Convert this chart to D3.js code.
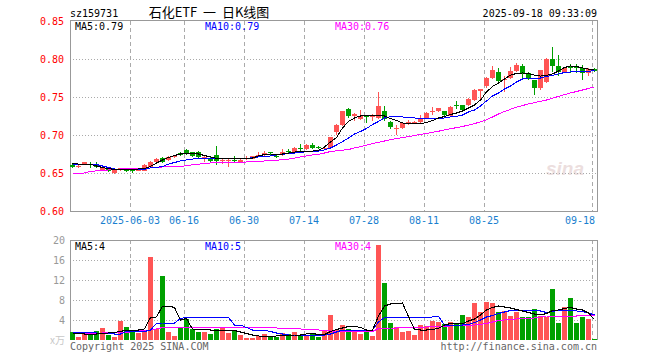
<!DOCTYPE html>
<html>
<head>
<meta charset="utf-8">
<script src="https://cdn.jsdelivr.net/npm/d3@7"></script>
<style>
  html, body { margin: 0; padding: 0; background: #fff; }
  svg { display: block; }
  text { font-family: "DejaVu Sans Mono", monospace; font-size: 10px; }
</style>
</head>
<body>
<div id="chart"></div>
<script>
// trading days shown (2025)
const dates = ["05-19","05-20","05-21","05-22","05-23","05-26","05-27","05-28","05-29","05-30",
  "06-03","06-04","06-05","06-06","06-09","06-10","06-11","06-12","06-13","06-16",
  "06-17","06-18","06-19","06-20","06-23","06-24","06-25","06-26","06-27","06-30",
  "07-01","07-02","07-03","07-04","07-07","07-08","07-09","07-10","07-11","07-14",
  "07-15","07-16","07-17","07-18","07-21","07-22","07-23","07-24","07-25","07-28",
  "07-29","07-30","07-31","08-01","08-04","08-05","08-06","08-07","08-08","08-11",
  "08-12","08-13","08-14","08-15","08-18","08-19","08-20","08-21","08-22","08-25",
  "08-26","08-27","08-28","08-29","09-01","09-02","09-03","09-04","09-05","09-08",
  "09-09","09-10","09-11","09-12","09-15","09-16","09-17","09-18"];

const open = [.660,.658,.662,.662,.660,.654,.656,.650,.654,.656,
  .654,.653,.653,.658,.664,.670,.667,.671,.676,.680,
  .677,.678,.670,.670,.674,.666,.666,.667,.665,.669,
  .669,.673,.674,.677,.673,.674,.679,.678,.683,.681,
  .687,.684,.681,.683,.704,.713,.734,.725,.721,.725,
  .724,.722,.732,.717,.708,.709,.716,.716,.717,.722,
  .730,.731,.731,.725,.739,.739,.739,.746,.758,.764,
  .775,.783,.773,.775,.784,.791,.782,.772,.762,.770,
  .800,.791,.782,.790,.789,.788,.782,.787];
const high = [.662,.660,.665,.664,.664,.659,.658,.655,.657,.657,
  .656,.657,.662,.666,.670,.671,.672,.674,.677,.681,
  .678,.679,.672,.671,.686,.668,.669,.672,.670,.672,
  .673,.677,.679,.678,.674,.681,.681,.684,.688,.688,
  .689,.686,.684,.698,.714,.732,.735,.729,.733,.726,
  .727,.757,.738,.718,.713,.717,.720,.718,.726,.730,
  .737,.736,.732,.738,.745,.740,.749,.760,.761,.776,
  .791,.788,.778,.790,.795,.793,.783,.773,.785,.801,
  .816,.805,.789,.793,.793,.792,.788,.788];
const low = [.657,.657,.661,.657,.657,.653,.651,.649,.653,.651,
  .650,.652,.652,.657,.663,.663,.666,.670,.673,.674,
  .671,.670,.664,.663,.661,.662,.658,.664,.663,.667,
  .668,.672,.673,.673,.670,.673,.676,.677,.679,.680,
  .682,.681,.680,.682,.700,.712,.722,.719,.720,.716,
  .718,.721,.718,.708,.700,.708,.713,.714,.716,.721,
  .726,.730,.722,.724,.734,.732,.738,.745,.748,.762,
  .774,.769,.757,.774,.783,.772,.773,.753,.759,.769,
  .783,.777,.781,.782,.782,.772,.777,.783];
const close = [.658,.659,.664,.661,.658,.658,.652,.654,.656,.652,
  .653,.656,.661,.665,.668,.665,.671,.672,.674,.675,
  .672,.671,.671,.666,.666,.667,.667,.666,.667,.670,
  .673,.674,.676,.676,.671,.678,.678,.683,.682,.687,
  .683,.683,.683,.697,.713,.731,.725,.727,.725,.724,
  .725,.738,.721,.710,.709,.716,.717,.717,.722,.729,
  .731,.735,.726,.737,.738,.733,.748,.759,.760,.775,
  .786,.771,.774,.784,.792,.780,.774,.762,.785,.800,
  .791,.783,.788,.789,.788,.782,.787,.784];

const ma5 = [.6628,.6618,.6614,.6614,.6592,.6572,.6559,.6546,.6546,.6546,
  .6546,.6553,.6559,.6586,.6632,.6671,.6704,.6730,.6750,.6763,
  .6763,.6750,.6730,.6711,.6693,.6691,.6691,.6691,.6691,.6691,
  .6697,.6724,.6743,.6750,.6750,.6750,.6763,.6776,.6783,.6789,
  .6789,.6796,.6842,.6908,.6967,.7092,.7178,.7224,.7250,.7263,
  .7263,.7263,.7250,.7217,.7191,.7158,.7145,.7145,.7151,.7164,
  .7191,.7224,.7243,.7270,.7289,.7316,.7355,.7395,.7460,.7566,
  .7638,.7684,.7737,.7789,.7809,.7816,.7809,.7789,.7776,.7783,
  .7803,.7842,.7888,.7908,.7901,.7882,.7868,.7862];
const ma10 = [.6618,.6618,.6618,.6618,.6612,.6592,.6572,.6553,.6546,.6546,
  .6546,.6546,.6549,.6566,.6572,.6586,.6618,.6638,.6658,.6671,
  .6684,.6688,.6691,.6691,.6691,.6691,.6691,.6691,.6691,.6693,
  .6700,.6711,.6717,.6724,.6737,.6746,.6757,.6763,.6770,.6780,
  .6783,.6789,.6803,.6829,.6868,.6914,.6961,.7013,.7046,.7086,
  .7138,.7178,.7224,.7241,.7241,.7237,.7230,.7224,.7217,.7217,
  .7214,.7211,.7224,.7237,.7246,.7263,.7303,.7329,.7382,.7447,
  .7513,.7553,.7605,.7645,.7697,.7737,.7750,.7750,.7750,.7770,
  .7783,.7803,.7822,.7829,.7829,.7829,.7835,.7855];
const ma30 = [.6493,.6493,.6500,.6520,.6529,.6533,.6540,.6549,.6553,.6557,
  .6560,.6560,.6562,.6566,.6572,.6579,.6579,.6582,.6586,.6597,
  .6608,.6616,.6624,.6632,.6632,.6632,.6634,.6637,.6641,.6645,
  .6650,.6653,.6658,.6664,.6668,.6674,.6682,.6697,.6711,.6724,
  .6737,.6747,.6763,.6783,.6792,.6800,.6809,.6829,.6846,.6866,
  .6886,.6904,.6921,.6937,.6953,.6967,.6980,.6993,.7007,.7020,
  .7036,.7050,.7066,.7082,.7097,.7113,.7129,.7150,.7174,.7200,
  .7237,.7276,.7309,.7338,.7366,.7388,.7408,.7426,.7443,.7460,
  .7484,.7508,.7532,.7553,.7572,.7592,.7612,.7632];

// volume, in 万
const volume = [1.67,0.67,1.13,1.13,1.8,2.47,1.0,0.67,3.87,2.67,
  2.0,1.33,2.0,16.67,2.2,12.8,1.67,0.8,2.67,4.13,
  2.13,1.67,1.53,1.27,2.13,2.53,1.47,2.0,1.0,0.47,
  0.47,0.8,1.13,0.67,0.67,1.47,1.27,1.67,1.0,0.8,
  1.27,0.67,1.8,5.0,2.0,3.0,2.2,1.67,1.2,2.0,
  0.8,19.0,11.47,3.47,2.53,1.67,1.87,1.0,3.0,2.8,
  3.87,3.67,3.13,3.67,3.13,5.0,4.67,7.47,5.67,7.67,
  7.47,5.67,5.87,4.8,5.67,4.53,4.53,6.13,4.8,4.53,
  10.13,3.33,6.53,8.33,3.33,4.53,4.13,0.2];
const volMa5 = [1.4,1.3,1.2,1.2,1.2,1.3,1.4,1.5,1.7,2.0,
  2.0,2.0,2.2,4.5,4.6,6.8,6.8,6.5,4.0,4.3,
  2.2,2.1,2.1,2.0,2.0,1.9,1.9,1.9,1.6,1.3,
  1.0,0.8,0.7,0.7,0.8,0.9,0.9,1.0,1.0,1.2,
  1.3,1.1,1.1,1.7,2.1,2.4,2.7,2.7,2.5,2.0,
  2.0,4.8,6.8,7.2,7.3,7.4,4.7,2.1,2.0,2.0,
  2.1,2.3,3.0,3.3,3.3,3.3,3.8,4.2,5.0,6.0,
  6.5,6.8,6.6,6.4,6.1,5.8,5.5,5.2,5.0,5.3,
  5.9,6.0,6.3,6.5,6.2,6.0,5.4,4.1];
const volMa10 = [1.5,1.5,1.5,1.5,1.4,1.3,1.3,1.2,1.2,1.7,
  1.7,1.7,1.7,2.0,3.3,3.4,3.4,3.4,4.3,4.5,
  4.5,4.5,4.5,4.5,4.5,4.5,4.5,3.0,3.0,2.5,
  2.0,2.0,1.9,1.7,1.4,1.2,1.0,1.0,1.0,1.0,
  1.0,1.0,1.0,1.2,1.6,2.0,2.0,2.0,2.0,2.0,
  2.0,3.6,4.5,4.5,4.5,4.5,4.5,4.5,4.5,4.5,
  4.6,4.7,3.0,3.0,3.0,3.0,3.1,3.5,4.0,4.6,
  4.9,5.3,5.6,5.9,5.9,5.9,5.9,5.9,5.8,5.5,
  5.7,6.0,6.0,5.9,5.8,5.7,5.4,5.0];
const volMa30 = [1.4,1.4,1.4,1.4,1.4,1.4,1.5,1.5,1.5,1.5,
  1.7,1.8,1.9,2.0,2.2,2.5,2.55,2.55,2.55,2.55,
  2.55,2.55,2.55,2.55,2.55,2.55,2.55,2.55,2.55,2.55,
  2.55,2.55,2.5,2.45,2.4,2.35,2.3,2.25,2.2,2.15,
  2.1,2.0,1.9,1.8,1.7,1.7,1.7,1.7,1.7,1.7,
  1.7,2.3,2.35,2.4,2.4,2.45,2.5,2.5,2.55,2.6,
  2.65,2.7,2.75,2.8,2.85,2.9,2.95,3.0,3.1,3.3,
  3.6,3.9,4.0,4.1,4.2,4.25,4.3,4.4,4.6,4.8,
  4.8,4.8,4.8,4.8,4.8,4.9,4.9,4.9];

const priceTicks = [0.60, 0.65, 0.70, 0.75, 0.80, 0.85];
const volTicks = [4, 8, 12, 16, 20];
const dateTicks = ["06-03","06-16","06-30","07-14","07-28","08-11","08-25","09-18"];

const width = 660, height = 360;
const left = 70, right = 597;

const red = "#ff5555", green = "#00a000", grid = "#aaaaaa", frame = "#999999";

const svg = d3.select("#chart").append("svg")
    .attr("width", width)
    .attr("height", height);

const x = d3.scaleBand()
    .domain(dates)
    .range([left, left + 6 * dates.length - 1])
    .paddingInner(1 / 6)
    .paddingOuter(0);
const bx = d => Math.round(x(d));

const y = d3.scaleLinear().domain([0.60, 0.85]).range([211, 21]);
const vy = d3.scaleLinear().domain([0, 20]).range([340, 240]);

// header
svg.append("text").attr("x", left).attr("y", 17).text("sz159731");
svg.append("text")
    .attr("x", 209).attr("y", 17)
    .attr("text-anchor", "middle")
    .style("font-family", "'Noto Sans CJK SC', sans-serif")
    .style("font-size", "13px")
    .style("white-space", "pre")
    .text("石化ETF  一  日K线图");
svg.append("text")
    .attr("x", right).attr("y", 17)
    .attr("text-anchor", "end")
    .text("2025-09-18 09:33:09");

// watermark
svg.append("text")
    .attr("x", 546).attr("y", 175)
    .style("font-family", "'Liberation Sans', sans-serif")
    .style("font-size", "19px")
    .style("font-style", "italic")
    .style("font-weight", "bold")
    .attr("fill", "#ecdede")
    .text("sina");

// grid: price panel
const gPrice = svg.append("g").attr("shape-rendering", "crispEdges");
gPrice.selectAll(".hgrid")
    .data(priceTicks.slice(1, -1))
    .join("line")
    .attr("x1", left).attr("x2", right)
    .attr("y1", d => Math.round(y(d)) + 0.5)
    .attr("y2", d => Math.round(y(d)) + 0.5)
    .attr("stroke", grid)
    .attr("stroke-dasharray", "1,2");
gPrice.selectAll(".vgrid")
    .data(dateTicks)
    .join("line")
    .attr("x1", d => bx(d) + 0.5).attr("x2", d => bx(d) + 0.5)
    .attr("y1", 21).attr("y2", 211)
    .attr("stroke", grid)
    .attr("stroke-dasharray", "4,3");
gPrice.append("path")
    .attr("d", `M${left + 0.5},${y(0.60) + 0.5}V${y(0.85) - 0.5}H${right + 0.5}V${y(0.60) + 0.5}H${left + 0.5}`)
    .attr("fill", "none")
    .attr("stroke", frame);

// grid: volume panel
const gVol = svg.append("g").attr("shape-rendering", "crispEdges");
gVol.selectAll(".hgrid")
    .data(volTicks.slice(0, -1))
    .join("line")
    .attr("x1", left).attr("x2", right)
    .attr("y1", d => vy(d) + 0.5).attr("y2", d => vy(d) + 0.5)
    .attr("stroke", grid)
    .attr("stroke-dasharray", "1,2");
gVol.selectAll(".vgrid")
    .data(dateTicks)
    .join("line")
    .attr("x1", d => bx(d) + 0.5).attr("x2", d => bx(d) + 0.5)
    .attr("y1", vy(20)).attr("y2", vy(0))
    .attr("stroke", grid)
    .attr("stroke-dasharray", "4,3");
gVol.append("path")
    .attr("d", `M${left + 0.5},${vy(0)}V${vy(20) + 0.5}H${right + 0.5}V${vy(0)}`)
    .attr("fill", "none")
    .attr("stroke", frame);

// axis labels
svg.selectAll(".plabel")
    .data(priceTicks)
    .join("text")
    .attr("x", 64)
    .attr("y", d => y(d) + 4)
    .attr("text-anchor", "end")
    .attr("fill", "#ff0000")
    .text(d => d.toFixed(2));

svg.selectAll(".vlabel")
    .data(volTicks)
    .join("text")
    .attr("x", 65)
    .attr("y", d => vy(d) + 4)
    .attr("text-anchor", "end")
    .attr("fill", "#999")
    .text(d => d);

svg.append("text")
    .attr("x", 65).attr("y", 344)
    .attr("text-anchor", "end")
    .attr("fill", "#c8c8c8")
    .style("font-family", "'Noto Sans CJK SC', sans-serif")
    .style("font-size", "10px")
    .text("x万");

svg.selectAll(".dlabel")
    .data(dateTicks)
    .join("text")
    .attr("x", d => bx(d) + 25 > right ? right - 2 : bx(d))
    .attr("y", 224)
    .attr("text-anchor", d => bx(d) + 25 > right ? "end" : "middle")
    .attr("fill", "#1a7fcf")
    .text((d, i) => i === 0 ? "2025-" + d : d);

// candles
const idx = d3.range(dates.length);
const up = i => close[i] >= open[i];

const gCandle = svg.append("g").attr("shape-rendering", "crispEdges");
gCandle.selectAll(".wick")
    .data(idx)
    .join("line")
    .attr("x1", i => bx(dates[i]) + 2.5)
    .attr("x2", i => bx(dates[i]) + 2.5)
    .attr("y1", i => Math.round(y(high[i])))
    .attr("y2", i => Math.round(y(low[i])))
    .attr("stroke", i => up(i) ? red : green);
gCandle.selectAll(".body")
    .data(idx)
    .join("rect")
    .attr("x", i => bx(dates[i]))
    .attr("width", x.bandwidth())
    .attr("y", i => Math.round(y(Math.max(open[i], close[i]))))
    .attr("height", i => Math.max(1, Math.round(y(Math.min(open[i], close[i]))) - Math.round(y(Math.max(open[i], close[i])))))
    .attr("fill", i => up(i) ? red : green);

// volume bars
svg.append("g")
    .attr("shape-rendering", "crispEdges")
    .selectAll("rect")
    .data(idx)
    .join("rect")
    .attr("x", i => bx(dates[i]))
    .attr("width", x.bandwidth())
    .attr("y", i => Math.round(vy(volume[i])))
    .attr("height", i => vy(0) - Math.round(vy(volume[i])))
    .attr("fill", i => up(i) ? red : green);

// moving averages
const lineOf = (scale, arr) => d3.line()
    .x((d, i) => bx(dates[i]) + 2.5)
    .y(d => scale(d))(arr);

const series = [
    [y, ma30, "#ff00ff"], [y, ma10, "#0000ff"], [y, ma5, "#000000"],
    [vy, volMa30, "#ff00ff"], [vy, volMa10, "#0000ff"], [vy, volMa5, "#000000"]
];
svg.append("g")
    .attr("shape-rendering", "crispEdges")
    .selectAll("path")
    .data(series)
    .join("path")
    .attr("d", d => lineOf(d[0], d[1]))
    .attr("fill", "none")
    .attr("stroke", d => d[2])
    .attr("stroke-width", 1);

// legends
const last = a => a[a.length - 1];
const legends = [
    [75, 30, "MA5:" + last(ma5).toFixed(2), "#000"],
    [205, 30, "MA10:" + last(ma10).toFixed(2), "#0000ff"],
    [335, 30, "MA30:" + last(ma30).toFixed(2), "#ff00ff"],
    [75, 250, "MA5:" + Math.floor(last(volMa5)), "#000"],
    [205, 250, "MA10:" + Math.floor(last(volMa10)), "#0000ff"],
    [335, 250, "MA30:" + Math.floor(last(volMa30)), "#ff00ff"]
];
svg.selectAll(".legend")
    .data(legends)
    .join("text")
    .attr("x", d => d[0])
    .attr("y", d => d[1])
    .attr("fill", d => d[3])
    .text(d => d[2]);

// footer
svg.append("text").attr("x", left).attr("y", 350).attr("fill", "#666").text("Copyright 2025 SINA.COM");
svg.append("text").attr("x", right).attr("y", 350).attr("text-anchor", "end").attr("fill", "#666").text("http://finance.sina.com.cn");
</script>
</body>
</html>
